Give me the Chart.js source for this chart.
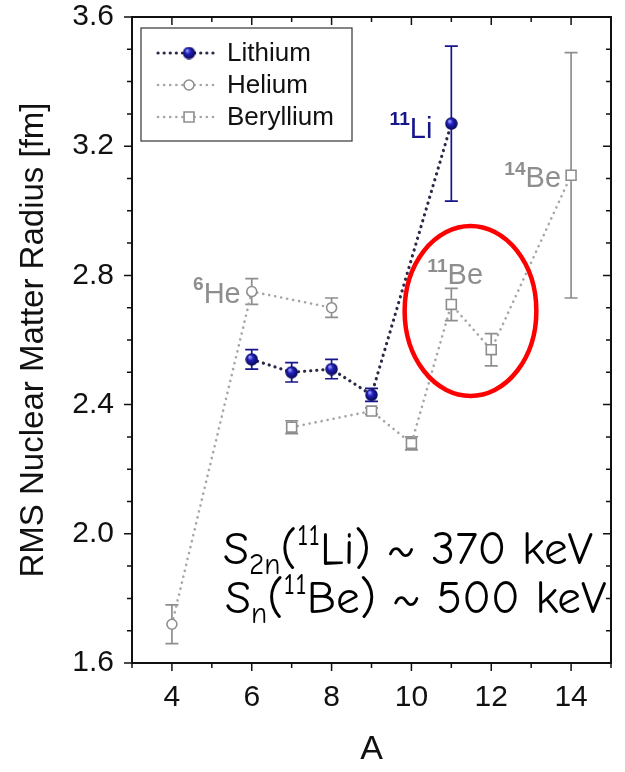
<!DOCTYPE html>
<html>
<head>
<meta charset="utf-8">
<script src="https://cdn.jsdelivr.net/npm/chart.js@4.4.1/dist/chart.umd.min.js"></script>
<style>
  html, body { margin: 0; padding: 0; background: #fff; }
  #wrap { width: 625px; height: 772px; position: relative; }
</style>
</head>
<body>
<div id="wrap"><canvas id="chart"></canvas></div>
<script>
// mass number A and RMS matter radius [fm], with error bars
const liA = [6, 7, 8, 9, 11];
const liR = [2.54, 2.50, 2.51, 2.43, 3.27];
const liErr = [0.03, 0.03, 0.03, 0.02, 0.24];

const heA = [4, 6, 8];
const heR = [1.72, 2.75, 2.70];
const heErr = [0.06, 0.04, 0.03];

const beA = [7, 9, 10, 11, 12, 14];
const beR = [2.33, 2.38, 2.28, 2.71, 2.57, 3.11];
const beErr = [0.02, 0.01, 0.02, 0.05, 0.05, 0.38];

const xTicks = [4, 6, 8, 10, 12, 14];
const yTicks = [1.6, 2.0, 2.4, 2.8, 3.2, 3.6];

const NAVY = '#16168a';
const GREY = '#8e8e8e';
const AXIS_FONT = "'Liberation Sans', Arial, sans-serif";

function pts(xs, ys) { return xs.map((x, i) => ({ x, y: ys[i] })); }

// shaded blue ball used as the lithium marker
function makeBall(d) {
  const c = document.createElement('canvas');
  c.width = d; c.height = d;
  const g = c.getContext('2d');
  const r = d / 2;
  const grad = g.createRadialGradient(r * 0.7, r * 0.6, r * 0.1, r, r, r);
  grad.addColorStop(0, '#9a9aff');
  grad.addColorStop(0.35, '#2222c0');
  grad.addColorStop(1, '#06064a');
  g.fillStyle = grad;
  g.beginPath(); g.arc(r, r, r - 0.3, 0, Math.PI * 2); g.fill();
  return c;
}
const ball = makeBall(13);

const errBars = {
  id: 'errBars',
  beforeDatasetsDraw(chart) {
    const { ctx, scales: { x, y } } = chart;
    chart.data.datasets.forEach(ds => {
      ctx.save();
      ctx.strokeStyle = ds.errColor;
      ctx.lineWidth = 1.7;
      ds.data.forEach((p, i) => {
        const e = ds.err[i];
        const px = x.getPixelForValue(p.x);
        const top = y.getPixelForValue(p.y + e), bot = y.getPixelForValue(p.y - e);
        ctx.beginPath();
        ctx.moveTo(px, top); ctx.lineTo(px, bot);
        ctx.moveTo(px - 6.5, top); ctx.lineTo(px + 6.5, top);
        ctx.moveTo(px - 6.5, bot); ctx.lineTo(px + 6.5, bot);
        ctx.stroke();
      });
      ctx.restore();
    });
  }
};

// text with superscript / subscript pieces
function richText(ctx, parts, x, y, size, family, color, measureOnly) {
  let cx = x;
  ctx.save();
  ctx.fillStyle = color;
  ctx.textBaseline = 'alphabetic';
  ctx.textAlign = 'left';
  parts.forEach(p => {
    const s = p.s ? size * p.s : size;
    ctx.font = (p.w || '') + ' ' + s + 'px ' + family;
    if (!measureOnly) ctx.fillText(p.t, cx, y + (p.dy || 0) * size);
    cx += ctx.measureText(p.t).width;
  });
  ctx.restore();
  return cx - x;
}

function isotope(ctx, mass, sym, px, py, align, color) {
  const parts = [{ t: mass, s: 0.66, dy: -0.42, w: 'bold' }, { t: sym }];
  const w = richText(ctx, parts, 0, 0, 29, AXIS_FONT, color, true);
  const x0 = align === 'right' ? px - w : align === 'center' ? px - w / 2 : px;
  richText(ctx, parts, x0, py, 29, AXIS_FONT, color);
}

const decor = {
  id: 'decor',
  afterDraw(chart) {
    const { ctx, chartArea: a, scales: { x, y } } = chart;
    ctx.save();
    // frame
    ctx.strokeStyle = '#111';
    ctx.lineWidth = 2;
    ctx.strokeRect(a.left, a.top, a.right - a.left, a.bottom - a.top);
    // ticks: outward on bottom/left, inward on top/right
    ctx.lineWidth = 1.5;
    ctx.beginPath();
    for (let v = 3; v <= 15; v++) {
      const px = x.getPixelForValue(v);
      const len = v % 2 === 0 ? 8 : 5;
      ctx.moveTo(px, a.bottom); ctx.lineTo(px, a.bottom + len);
      ctx.moveTo(px, a.top); ctx.lineTo(px, a.top + len);
    }
    for (let k = 16; k <= 36; k++) {
      const py = y.getPixelForValue(k / 10);
      const len = k % 4 === 0 ? 8 : 5;
      ctx.moveTo(a.left, py); ctx.lineTo(a.left - len, py);
      ctx.moveTo(a.right, py); ctx.lineTo(a.right - len, py);
    }
    ctx.stroke();

    // legend box
    const lx = 141, ly = 28, lw = 211, lh = 113;
    ctx.fillStyle = '#fff';
    ctx.fillRect(lx, ly, lw, lh);
    ctx.strokeStyle = '#444';
    ctx.lineWidth = 1.3;
    ctx.strokeRect(lx, ly, lw, lh);
    chart.data.datasets.forEach((ds, i) => {
      const ry = ly + 25 + i * 32;
      ctx.save();
      ctx.strokeStyle = ds.borderColor;
      ctx.lineWidth = ds.borderWidth;
      ctx.lineCap = 'round';
      ctx.setLineDash(ds.borderDash);
      ctx.beginPath(); ctx.moveTo(158, ry); ctx.lineTo(219, ry); ctx.stroke();
      ctx.restore();
      if (ds.pointStyle === ball) {
        ctx.drawImage(ball, 189 - 6.5, ry - 6.5);
      } else {
        ctx.save();
        ctx.fillStyle = '#fff'; ctx.strokeStyle = ds.pointBorderColor; ctx.lineWidth = ds.pointBorderWidth;
        Chart.helpers.drawPoint(ctx, { pointStyle: ds.pointStyle, radius: ds.pointRadius, borderWidth: ds.pointBorderWidth }, 189, ry);
        ctx.restore();
      }
      ctx.fillStyle = '#111';
      ctx.font = '26px ' + AXIS_FONT;
      ctx.textBaseline = 'middle';
      ctx.fillText(ds.label, 227, ry + 1);
    });

    // isotope labels next to their points
    isotope(ctx, '6', 'He', x.getPixelForValue(6) - 11, y.getPixelForValue(2.75) + 11, 'right', GREY);
    isotope(ctx, '11', 'Li', x.getPixelForValue(11) - 19, y.getPixelForValue(3.27) + 14, 'right', NAVY);
    isotope(ctx, '11', 'Be', x.getPixelForValue(11) - 24, y.getPixelForValue(2.71) - 20, 'left', GREY);
    isotope(ctx, '14', 'Be', x.getPixelForValue(14) - 10, y.getPixelForValue(3.11) + 12, 'right', GREY);

    // red ellipse around 11Be
    ctx.strokeStyle = '#ff0000';
    ctx.lineWidth = 4.5;
    ctx.beginPath();
    const ecx = x.getPixelForValue(11.48), ecy = y.getPixelForValue(2.69);
    const erx = x.getPixelForValue(11.48 + 1.65) - ecx, ery = ecy - y.getPixelForValue(2.69 + 0.263);
    ctx.ellipse(ecx, ecy, erx, ery, 0, 0, Math.PI * 2);
    ctx.stroke();

    // separation energies
    const fam = "'Comic Sans MS', 'Comic Neue', 'DejaVu Sans', sans-serif";
    const l1 = [{ t: 'S' }, { t: '2n', s: 0.62, dy: 0.22 }, { t: '(' }, { t: '11', s: 0.62, dy: -0.4 }, { t: 'Li) ~ 370 keV' }];
    const l2 = [{ t: 'S' }, { t: 'n', s: 0.62, dy: 0.22 }, { t: '(' }, { t: '11', s: 0.62, dy: -0.4 }, { t: 'Be) ~ 500 keV' }];
    const w40 = richText(ctx, l1, 0, 0, 40, fam, '#000', true);
    const fs = 40 * 370 / w40;
    richText(ctx, l1, 223, 564, fs, fam, '#000');
    richText(ctx, l2, 225, 613, fs, fam, '#000');
    ctx.restore();
  }
};

const dotted = [0.1, 6];

new Chart(document.getElementById('chart'), {
  type: 'line',
  data: {
    datasets: [
      {
        label: 'Lithium', data: pts(liA, liR), err: liErr, errColor: NAVY,
        borderColor: '#2a2a48', borderWidth: 3.2, borderDash: dotted, borderCapStyle: 'round',
        pointStyle: ball, pointRadius: 6.5, pointHoverRadius: 6.5
      },
      {
        label: 'Helium', data: pts(heA, heR), err: heErr, errColor: GREY,
        borderColor: '#a6a6a6', borderWidth: 2.6, borderDash: dotted, borderCapStyle: 'round',
        pointStyle: 'circle', pointRadius: 5, pointBackgroundColor: '#fff',
        pointBorderColor: GREY, pointBorderWidth: 1.6
      },
      {
        label: 'Beryllium', data: pts(beA, beR), err: beErr, errColor: GREY,
        borderColor: '#a6a6a6', borderWidth: 2.6, borderDash: dotted, borderCapStyle: 'round',
        pointStyle: 'rect', pointRadius: 7, pointBackgroundColor: '#fff',
        pointBorderColor: GREY, pointBorderWidth: 1.6
      }
    ]
  },
  options: {
    responsive: true,
    maintainAspectRatio: false,
    animation: false,
    layout: { padding: { top: 17, right: 14, left: 0, bottom: 0 } },
    plugins: { legend: { display: false }, tooltip: { enabled: false } },
    scales: {
      x: {
        type: 'linear', min: 3, max: 15,
        afterFit: s => { s.height = 109; s.paddingLeft = 0; s.paddingRight = 0; },
        afterBuildTicks: s => { s.ticks = xTicks.map(v => ({ value: v })); },
        grid: { display: false, drawTicks: false },
        border: { display: false },
        ticks: { font: { size: 30, family: AXIS_FONT, lineHeight: 1 }, color: '#111', padding: 20 },
        title: { display: true, text: 'A', font: { size: 34, family: AXIS_FONT }, color: '#111', padding: { top: 0, bottom: 2 } }
      },
      y: {
        type: 'linear', min: 1.6, max: 3.6,
        afterFit: s => { s.width = 132; s.paddingTop = 0; s.paddingBottom = 0; },
        afterBuildTicks: s => { s.ticks = yTicks.map(v => ({ value: v })); },
        grid: { display: false, drawTicks: false },
        border: { display: false },
        ticks: { font: { size: 30, family: AXIS_FONT, lineHeight: 1 }, color: '#111', padding: 18,
                 callback: v => v.toFixed(1) },
        title: { display: true, text: 'RMS Nuclear Matter Radius [fm]', font: { size: 33, family: AXIS_FONT },
                 color: '#111', padding: { top: 14, bottom: 0 } }
      }
    }
  },
  plugins: [errBars, decor]
});
</script>
</body>
</html>
